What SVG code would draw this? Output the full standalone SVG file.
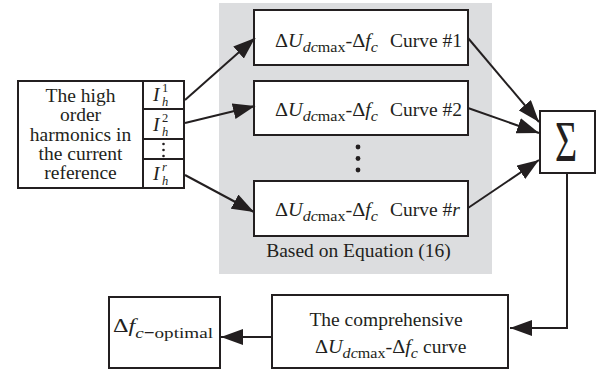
<svg xmlns="http://www.w3.org/2000/svg" width="605" height="371" viewBox="0 0 605 371">
<style>
.t{font-family:"Liberation Serif","Times New Roman",serif;font-size:19.5px;fill:#231f20}
.i{font-style:italic}
.s{font-size:15.5px}
.h{font-family:"Liberation Serif","Times New Roman",serif;font-size:12.5px;fill:#231f20}
.box{fill:#fff;stroke:#231f20;stroke-width:2}
.ln{fill:none;stroke:#231f20;stroke-width:2}
</style>
<defs>
<marker id="ah" markerUnits="userSpaceOnUse" markerWidth="24" markerHeight="16" refX="22" refY="8" orient="auto">
<path d="M0,0 L22,8 L0,16 z" fill="#231f20"/>
</marker>
</defs>
<rect x="219" y="3" width="273" height="271" fill="#dcdddf"/>
<g id="source">
<rect class="box" x="18" y="81" width="125" height="107"/>
<text class="t" text-anchor="middle"><tspan x="80.5" y="101.5">The high</tspan><tspan x="80.5" y="121">order</tspan><tspan x="80.5" y="141">harmonics in</tspan><tspan x="80.5" y="160">the current</tspan><tspan x="80.5" y="179">reference</tspan></text>
</g>
<g id="harmonics">
<rect class="box" x="143" y="81" width="41" height="107"/>
<path class="ln" d="M143,109H184M143,139H184M143,159H184"/>
<text class="t i" x="153" y="101">I</text>
<text class="h" x="162" y="92">1</text>
<text class="h i" x="162" y="106">h</text>
<text class="t i" x="153" y="131">I</text>
<text class="h" x="162" y="122">2</text>
<text class="h i" x="162" y="136">h</text>
<circle cx="163.5" cy="144" r="1.3" fill="#231f20"/>
<circle cx="163.5" cy="150" r="1.3" fill="#231f20"/>
<circle cx="163.5" cy="156" r="1.3" fill="#231f20"/>
<text class="t i" x="153" y="180">I</text>
<text class="h i" x="162" y="171">r</text>
<text class="h i" x="162" y="185">h</text>
</g>
<g id="curve1">
<rect class="box" x="254" y="10" width="214" height="55"/>
<text class="t" x="275" y="46.5" textLength="103" lengthAdjust="spacingAndGlyphs">Δ<tspan class="i">U</tspan><tspan class="i s" dy="5">dc</tspan><tspan class="s">max</tspan><tspan dy="-5">-Δ</tspan><tspan class="i">f</tspan><tspan class="i s" dy="5">c</tspan></text>
<text class="t" x="390" y="46.5">Curve #1</text>
</g>
<g id="curve2">
<rect class="box" x="254" y="81" width="214" height="54"/>
<text class="t" x="275" y="115.5" textLength="103" lengthAdjust="spacingAndGlyphs">Δ<tspan class="i">U</tspan><tspan class="i s" dy="5">dc</tspan><tspan class="s">max</tspan><tspan dy="-5">-Δ</tspan><tspan class="i">f</tspan><tspan class="i s" dy="5">c</tspan></text>
<text class="t" x="390" y="115.5">Curve #2</text>
</g>
<g id="dots">
<circle cx="358" cy="147" r="2.4" fill="#231f20"/>
<circle cx="358" cy="158.5" r="2.4" fill="#231f20"/>
<circle cx="358" cy="170" r="2.4" fill="#231f20"/>
</g>
<g id="curver">
<rect class="box" x="254" y="181" width="214" height="55"/>
<text class="t" x="275" y="216" textLength="103" lengthAdjust="spacingAndGlyphs">Δ<tspan class="i">U</tspan><tspan class="i s" dy="5">dc</tspan><tspan class="s">max</tspan><tspan dy="-5">-Δ</tspan><tspan class="i">f</tspan><tspan class="i s" dy="5">c</tspan></text>
<text class="t" x="390" y="216">Curve #<tspan class="i">r</tspan></text>
</g>
<g id="label">
<text class="t" x="358.5" y="257" text-anchor="middle">Based on Equation (16)</text>
</g>
<g id="sum">
<rect class="box" x="540" y="111" width="55" height="62"/>
<text class="t" transform="translate(566,161) scale(0.68,1)" text-anchor="middle" style="font-size:56px">Σ</text>
</g>
<g id="comprehensive">
<rect class="box" x="272" y="295" width="236" height="73"/>
<text class="t" x="386" y="326" text-anchor="middle">The comprehensive</text>
<text class="t" x="315" y="353" textLength="103" lengthAdjust="spacingAndGlyphs">Δ<tspan class="i">U</tspan><tspan class="i s" dy="5">dc</tspan><tspan class="s">max</tspan><tspan dy="-5">-Δ</tspan><tspan class="i">f</tspan><tspan class="i s" dy="5">c</tspan></text>
<text class="t" x="423" y="353">curve</text>
</g>
<g id="optimal">
<rect class="box" x="109" y="297" width="111" height="71"/>
<text class="t" x="113" y="332" textLength="100" lengthAdjust="spacingAndGlyphs">Δ<tspan class="i">f</tspan><tspan class="i s" dy="6">c</tspan><tspan class="s" font-weight="bold">−</tspan><tspan class="s">optimal</tspan></text>
</g>
<g id="connectors">
<path class="ln" marker-end="url(#ah)" d="M185,100L255,38"/>
<path class="ln" marker-end="url(#ah)" d="M185,123L255,106"/>
<path class="ln" marker-end="url(#ah)" d="M185,175L254,212"/>
<path class="ln" marker-end="url(#ah)" d="M468,38L539,122"/>
<path class="ln" marker-end="url(#ah)" d="M468,108L539,133"/>
<path class="ln" marker-end="url(#ah)" d="M468,208L539,160"/>
<path class="ln" marker-end="url(#ah)" d="M567,173V328H510"/>
<path class="ln" marker-end="url(#ah)" d="M272,337H221"/>
</g>
</svg>
